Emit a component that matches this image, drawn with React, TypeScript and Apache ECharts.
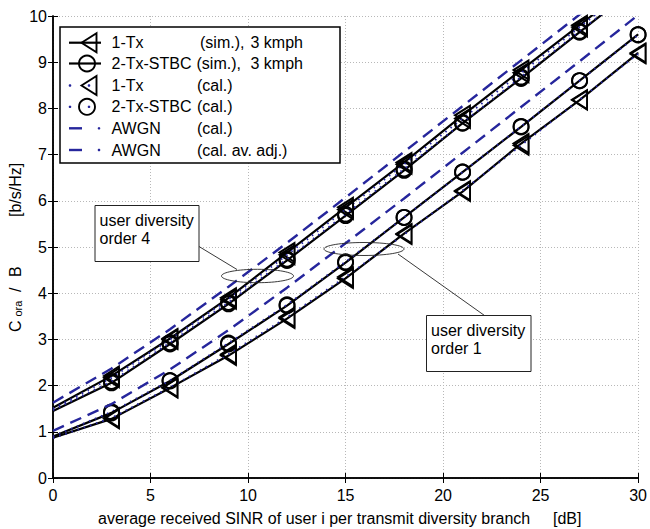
import React, { useEffect, useRef } from "react";
import * as echarts from "echarts";

// ---------------- data ----------------
const snr = [0, 3, 6, 9, 12, 15, 18, 21, 24, 27, 30];

// user diversity order 4
const sim1TxOrd4 = [1.52, 2.21, 3.02, 3.9, 4.88, 5.86, 6.83, 7.85, 8.83, 9.8, 10.8];
const sim2TxOrd4 = [1.45, 2.06, 2.9, 3.77, 4.71, 5.68, 6.66, 7.68, 8.65, 9.65, 10.65];
const cal1TxOrd4 = [1.5, 2.17, 3.0, 3.87, 4.83, 5.81, 6.79, 7.78, 8.77, 9.76, 10.75];
const cal2TxOrd4 = [1.47, 2.09, 2.93, 3.8, 4.74, 5.71, 6.69, 7.69, 8.68, 9.67, 10.67];

// user diversity order 1
const sim1TxOrd1 = [0.87, 1.28, 1.95, 2.65, 3.45, 4.32, 5.29, 6.2, 7.24, 8.18, 9.2];
const sim2TxOrd1 = [0.9, 1.41, 2.1, 2.9, 3.73, 4.66, 5.64, 6.62, 7.6, 8.6, 9.6];
const cal1TxOrd1 = [0.86, 1.3, 1.96, 2.68, 3.48, 4.35, 5.27, 6.22, 7.2, 8.19, 9.18];
const cal2TxOrd1 = [0.9, 1.43, 2.11, 2.92, 3.75, 4.68, 5.64, 6.62, 7.61, 8.6, 9.59];

// AWGN references
const awgnCal = [1.63, 2.37, 3.22, 4.14, 5.09, 6.07, 7.06, 8.05, 9.04, 10.03, 11.03];
const awgnAvAdj = [1.02, 1.6, 2.35, 3.2, 4.12, 5.08, 6.05, 7.04, 8.03, 9.02, 10.02];

const xMin = 0, xMax = 30, xStep = 5;
const yMin = 0, yMax = 10, yStep = 1;

const legendNames = ["1-Tx", "2-Tx-STBC", "1-Tx", "2-Tx-STBC", "AWGN", "AWGN"];
const legendTags = ["(sim.),", "(sim.),", "(cal.)", "(cal.)", "(cal.)", "(cal. av. adj.)"];
const legendExtra = ["3 kmph", "3 kmph", "", "", "", ""];
const annotation4 = ["user diversity", "order 4"];
const annotation1 = ["user diversity", "order 1"];
const xLabel = "average received SINR of user i per transmit diversity branch";
const xUnit = "[dB]";

// ---------------- styles ----------------
const FONT = "'Liberation Sans', Arial, Helvetica, sans-serif";
const BLUE = "#26269c";
const BLACK = "#000";
const TRI = "path://M0,9.5L15,0L15,19Z";
const TRI_SIZE = [15, 19];
const CIRC_SIZE = 15;

function pts(ys: number[]) {
  return snr.map((x, i) =>
    i === 0 ? { value: [x, ys[i]], symbol: "none" } : [x, ys[i]]
  );
}

function mkSeries(ys: number[], kind: "sim" | "cal" | "awgn", marker: "tri" | "circ" | "none") {
  const lineStyle =
    kind === "sim"
      ? { color: BLACK, width: 2.2, type: "solid" }
      : kind === "cal"
      ? { color: BLUE, width: 2, type: [1.5, 5] }
      : { color: BLUE, width: 2.4, type: [12, 7] };
  return {
    type: "line",
    data: pts(ys),
    xAxisIndex: 0,
    yAxisIndex: 0,
    lineStyle,
    symbol: marker === "tri" ? TRI : marker === "circ" ? "circle" : "none",
    symbolSize: marker === "tri" ? TRI_SIZE : CIRC_SIZE,
    showSymbol: marker !== "none",
    itemStyle: { color: "rgba(0,0,0,0)", borderColor: BLACK, borderWidth: 1.9 },
    emphasis: { disabled: true },
    silent: true,
    clip: true,
    z: kind === "sim" ? 2 : kind === "cal" ? 3 : 4,
  };
}

// ---------------- graphic helpers ----------------
function txt(x: number, y: number, text: string, opts: any = {}) {
  return {
    type: "text",
    x,
    y,
    z: 200,
    rotation: opts.rotation || 0,
    style: {
      text,
      fill: BLACK,
      fontSize: opts.fontSize || 16,
      fontFamily: FONT,
      align: opts.align || "left",
      verticalAlign: opts.verticalAlign || "middle",
    },
  };
}

function legendGraphic() {
  const els: any[] = [];
  els.push({
    type: "rect",
    z: 150,
    shape: { x: 60, y: 27, width: 280, height: 136 },
    style: { fill: "#fff", stroke: BLACK, lineWidth: 1.5 },
  });
  const rowsY = [42.7, 63.5, 85.5, 106.8, 128.3, 150];
  const tagX = [200, 196.5, 197, 197, 197, 197];
  const kinds = ["sim", "sim", "cal", "cal", "awgn", "awgn"];
  const markers = ["tri", "circ", "tri", "circ", "none", "none"];
  rowsY.forEach((y, i) => {
    const k = kinds[i];
    if (k === "sim") {
      els.push({ type: "line", z: 160, shape: { x1: 69, y1: y, x2: 101, y2: y }, style: { stroke: BLACK, lineWidth: 2.2 } });
    } else if (k === "cal") {
      els.push({ type: "circle", z: 160, shape: { cx: 70, cy: y, r: 1.3 }, style: { fill: BLUE } });
      els.push({ type: "circle", z: 162, shape: { cx: 89, cy: y, r: 1.3 }, style: { fill: BLUE } });
    } else {
      els.push({ type: "line", z: 160, shape: { x1: 69, y1: y, x2: 82, y2: y }, style: { stroke: BLUE, lineWidth: 2.4 } });
      els.push({ type: "circle", z: 160, shape: { cx: 99, cy: y, r: 1.3 }, style: { fill: BLUE } });
    }
    if (markers[i] === "tri") {
      els.push({
        type: "polygon",
        z: 161,
        shape: { points: [[81.5, y], [96.5, y - 9.5], [96.5, y + 9.5]] },
        style: { fill: "none", stroke: BLACK, lineWidth: 1.9 },
      });
    } else if (markers[i] === "circ") {
      els.push({
        type: "circle",
        z: 161,
        shape: { cx: 87, cy: y, r: 8 },
        style: { fill: "none", stroke: BLACK, lineWidth: 1.9 },
      });
    }
    els.push(txt(111.5, y, legendNames[i]));
    els.push(txt(tagX[i], y, legendTags[i]));
    if (legendExtra[i]) els.push(txt(250.5, y, legendExtra[i]));
  });
  return els;
}

function annotationGraphic() {
  const els: any[] = [];
  // order 4
  els.push({
    type: "rect", z: 150,
    shape: { x: 95, y: 205.5, width: 104, height: 56 },
    style: { fill: "#fff", stroke: "#222", lineWidth: 1 },
  });
  els.push(txt(99.5, 220, annotation4[0]));
  els.push(txt(99.5, 238.5, annotation4[1]));
  els.push({ type: "line", z: 150, shape: { x1: 199, y1: 246.5, x2: 237, y2: 269.5 }, style: { stroke: "#222", lineWidth: 0.9 } });
  els.push({ type: "ellipse", z: 150, shape: { cx: 257.5, cy: 276, rx: 36, ry: 6.7 }, style: { fill: "none", stroke: "#222", lineWidth: 0.9 } });
  // order 1
  els.push({
    type: "rect", z: 150,
    shape: { x: 426.5, y: 315.5, width: 104.5, height: 56 },
    style: { fill: "#fff", stroke: "#222", lineWidth: 1 },
  });
  els.push(txt(431, 330.5, annotation1[0]));
  els.push(txt(431, 348.5, annotation1[1]));
  els.push({ type: "line", z: 150, shape: { x1: 398, y1: 254, x2: 484.5, y2: 315.5 }, style: { stroke: "#222", lineWidth: 0.9 } });
  els.push({ type: "ellipse", z: 150, shape: { cx: 364, cy: 249, rx: 40, ry: 6.5 }, style: { fill: "none", stroke: "#222", lineWidth: 0.9 } });
  return els;
}

function axisLabelGraphic() {
  const R = Math.PI / 2;
  return [
    txt(98, 518, xLabel),
    txt(553, 518, xUnit),
    txt(15, 332, "C", { rotation: R }),
    txt(18, 316.5, "ora", { rotation: R, fontSize: 11 }),
    txt(15, 292, "/", { rotation: R }),
    txt(15, 277, "B", { rotation: R }),
    txt(15, 217, "[b/s/Hz]", { rotation: R }),
  ];
}

// ---------------- option ----------------
const axisLineStyle = { color: BLACK, width: 1.5 };
const gridLine = { show: true, lineStyle: { color: "#b8b8b8", width: 1, type: [1, 2] } };

const option: any = {
  animation: false,
  backgroundColor: "#fff",
  grid: { left: 53, right: 10, top: 16, bottom: 51, containLabel: false },
  xAxis: [
    {
      type: "value", min: xMin, max: xMax, interval: xStep, position: "bottom",
      axisLine: { lineStyle: axisLineStyle },
      axisTick: { inside: true, length: 5, lineStyle: { color: BLACK, width: 1 } },
      axisLabel: { color: BLACK, fontSize: 16, fontFamily: FONT, margin: 9 },
      splitLine: gridLine,
    },
    {
      type: "value", min: xMin, max: xMax, interval: xStep, position: "top",
      axisLine: { lineStyle: axisLineStyle },
      axisTick: { inside: true, length: 5, lineStyle: { color: BLACK, width: 1 } },
      axisLabel: { show: false },
      splitLine: { show: false },
    },
  ],
  yAxis: [
    {
      type: "value", min: yMin, max: yMax, interval: yStep, position: "left",
      axisLine: { lineStyle: axisLineStyle },
      axisTick: { inside: true, length: 5, lineStyle: { color: BLACK, width: 1 } },
      axisLabel: { color: BLACK, fontSize: 16, fontFamily: FONT, margin: 6 },
      splitLine: gridLine,
    },
    {
      type: "value", min: yMin, max: yMax, interval: yStep, position: "right",
      axisLine: { lineStyle: axisLineStyle },
      axisTick: { inside: true, length: 5, lineStyle: { color: BLACK, width: 1 } },
      axisLabel: { show: false },
      splitLine: { show: false },
    },
  ],
  series: [
    mkSeries(sim1TxOrd4, "sim", "tri"),
    mkSeries(sim2TxOrd4, "sim", "circ"),
    mkSeries(sim1TxOrd1, "sim", "tri"),
    mkSeries(sim2TxOrd1, "sim", "circ"),
    mkSeries(cal1TxOrd4, "cal", "tri"),
    mkSeries(cal2TxOrd4, "cal", "circ"),
    mkSeries(cal1TxOrd1, "cal", "tri"),
    mkSeries(cal2TxOrd1, "cal", "circ"),
    mkSeries(awgnCal, "awgn", "none"),
    mkSeries(awgnAvAdj, "awgn", "none"),
  ],
  graphic: [...legendGraphic(), ...annotationGraphic(), ...axisLabelGraphic()],
};

export default function App() {
  const ref = useRef<HTMLDivElement>(null);
  useEffect(() => {
    if (!ref.current) return;
    const chart = echarts.init(ref.current, null, { renderer: "svg" });
    chart.setOption(option);
    return () => chart.dispose();
  }, []);
  return (
    <div
      ref={ref}
      style={{ position: "absolute", left: 0, top: 0, width: 650, height: 529, overflow: "hidden" }}
    />
  );
}
